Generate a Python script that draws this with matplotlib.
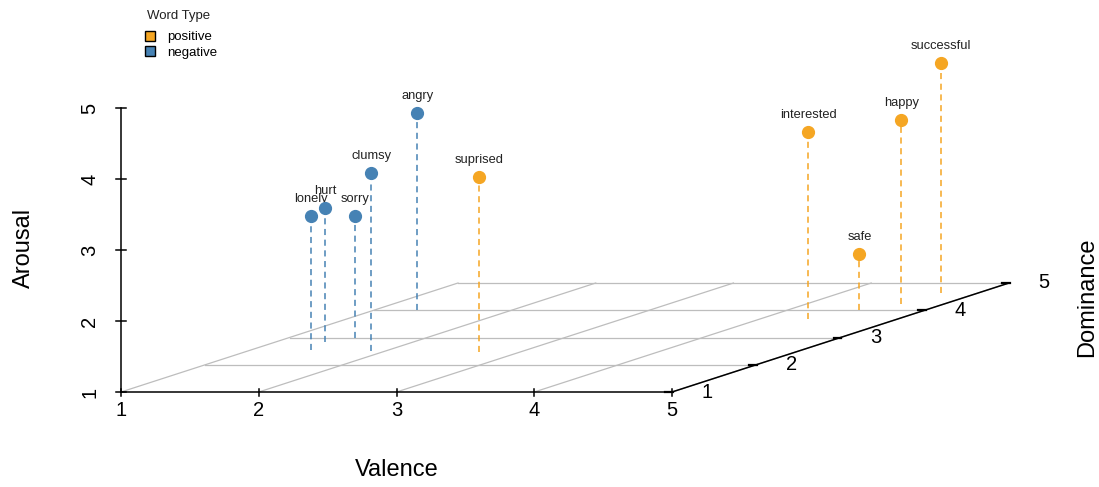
import numpy as np
import matplotlib
matplotlib.use("Agg")
import matplotlib.pyplot as plt
from matplotlib.lines import Line2D

plt.rcParams['font.family'] = ['Liberation Sans', 'DejaVu Sans']

# data
words = ['lonely', 'hurt', 'sorry', 'clumsy', 'angry',
         'suprised', 'interested', 'safe', 'happy', 'successful']
word_type = ['negative', 'negative', 'negative', 'negative', 'negative',
             'positive', 'positive', 'positive', 'positive', 'positive']
valence = [1.44, 1.35, 1.49, 1.90, 1.31, 2.70, 4.35, 4.52, 4.69, 4.73]
dominance = [2.54, 2.85, 2.98, 2.50, 4.01, 2.47, 3.68, 4.01, 4.23, 4.63]
arousal = [2.89, 2.88, 2.72, 3.51, 3.77, 3.46, 3.63, 1.79, 3.59, 4.24]

ticks = [1, 2, 3, 4, 5]
type_names = ['positive', 'negative']
type_colors = {'positive': '#F5A623', 'negative': '#4682B4'}

W, H = 1099, 487
PX_V, PX_Z = 137.75, 71.0       # pixels per unit valence / arousal
OX, OY = 121, 392               # pixel of (1, 1, 1)
D_DX, D_DY = 84.25, 27.25       # pixels per unit dominance
KX, KY = D_DX / PX_V, D_DY / PX_Z


def proj(v, d, z):
    v = np.asarray(v, float); d = np.asarray(d, float); z = np.asarray(z, float)
    return v + (d - 1) * KX, z + (d - 1) * KY


def pxv(p):  # pixels -> valence units
    return p / PX_V


def pxz(p):
    return p / PX_Z


fig = plt.figure(figsize=(W / 100, H / 100), dpi=100)
ax = fig.add_axes([0, 0, 1, 1])
ax.set_xlim(1 - OX / PX_V, 1 + (W - OX) / PX_V)
ax.set_ylim(1 - (H - OY) / PX_Z, 1 + OY / PX_Z)
ax.axis('off')

grid_kw = dict(color='#BDBDBD', lw=0.9, zorder=1)
# floor grid
for t in ticks:
    xs, ys = proj([t, t], [1, 5], [1, 1])
    ax.plot(xs, ys, **grid_kw)
for t in ticks[1:]:
    xs, ys = proj([1, 5], [t, t], [1, 1])
    ax.plot(xs, ys, **grid_kw)

axis_kw = dict(color='black', lw=1.1, zorder=3)
# valence axis
xs, ys = proj([1, 5], [1, 1], [1, 1])
ax.plot(xs, ys, **axis_kw)
for t in ticks:
    ax.plot([t, t], [1 - pxz(4), 1 + pxz(3)], **axis_kw)
    ax.annotate(str(t), (t, 1), xytext=(0, -19), textcoords='offset pixels',
                ha='center', va='center', fontsize=14.5)
# arousal axis
ax.plot([1, 1], [1, 5], **axis_kw)
for t in ticks:
    ax.plot([1 - pxv(5), 1 + pxv(5)], [t, t], **axis_kw)
    ax.annotate(str(t), (1, t), xytext=(-31, 0), textcoords='offset pixels',
                ha='center', va='center', fontsize=14.5, rotation=90)
# dominance axis
xs, ys = proj([5, 5], [1, 5], [1, 1])
ax.plot(xs, ys, **axis_kw)
for t in ticks:
    tx, ty = proj(5, t, 1)
    ax.plot([tx - pxv(7), tx + pxv(1)], [ty, ty], color='black', lw=1.6, zorder=3)
    ax.annotate(str(t), (tx, ty), xytext=(35, 0), textcoords='offset pixels',
                ha='center', va='center', fontsize=14.5)

# drop lines, points, labels
for w, t, v, d, z in zip(words, word_type, valence, dominance, arousal):
    c = type_colors[t]
    xs, ys = proj([v, v], [d, d], [1, z])
    ax.plot(xs, ys, color=c, lw=1.1, ls=(0, (4, 3)), zorder=2)
    px, py = proj(v, d, z)
    ax.plot(px, py, 'o', color=c, ms=8.5, zorder=4)
    ax.annotate(w, (px, py), xytext=(0, 14), textcoords='offset pixels',
                ha='center', va='baseline', fontsize=9.3, color='#222222')

fig.text(397 / W, 1 - 470 / H, 'Valence', ha='center', va='center', fontsize=17)
fig.text(24 / W, 1 - 248 / H, 'Arousal', ha='center', va='center', fontsize=17,
         rotation=90)
fig.text(1087 / W, 1 - 297 / H, 'Dominance', ha='center', va='center',
         fontsize=17, rotation=90)

# legend
fig.text(147 / W, 1 - 16 / H, 'Word Type', ha='left', va='center', fontsize=9.5,
         color='#222222')
handles = [Line2D([], [], marker='s', ls='none', mfc=type_colors[n],
                  mec='black', mew=1.0, ms=6.5) for n in type_names]
leg = ax.legend(handles, type_names, loc='upper left',
                bbox_to_anchor=(145 / W, 1 - 31 / H), frameon=False,
                fontsize=9.5, handlelength=0.8, handletextpad=0.9,
                labelspacing=0.25, borderpad=0, borderaxespad=0)

fig.savefig('out.png', dpi=100)
